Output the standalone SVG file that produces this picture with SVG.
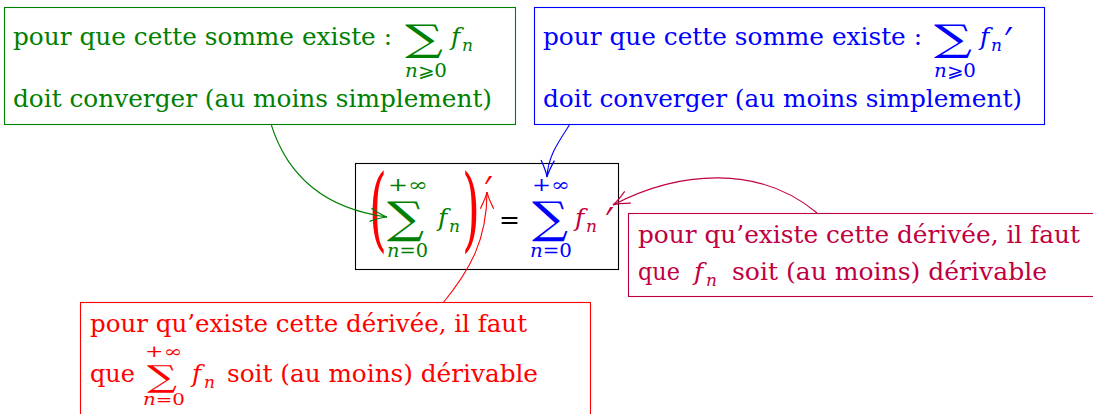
<svg xmlns="http://www.w3.org/2000/svg" width="1093" height="414" viewBox="0 0 1093 414">
<style>
text{font-family:'DejaVu Serif','Liberation Serif',serif;font-size:25px}
.it{font-style:italic}
.sub{font-size:17px;font-style:italic}
.sm{font-size:18px}
.s17{font-size:16px}
.pr{font-family:'Liberation Sans','DejaVu Sans',sans-serif;font-size:32px}
.sigt{font-size:37px}
.sig{font-size:44px}
.sigs{font-size:30px}
.par{font-size:92px}
.g{fill:#008000}.b{fill:#0000ff}.r{fill:#ff0000}.p{fill:#bf0040}.k{fill:#000}
.box{fill:#fff;stroke-width:1.1}
.conn{fill:none;stroke-width:1.1}
</style>
<defs>
<marker id="ag" markerUnits="userSpaceOnUse" markerWidth="20" markerHeight="20" refX="0" refY="0" viewBox="-16 -8 18 16" orient="auto"><path d="M-15,-6 Q-5,-1 0,0 Q-5,1 -15,6" fill="none" stroke="#008000" stroke-width="1.1"/></marker>
<marker id="ab" markerUnits="userSpaceOnUse" markerWidth="20" markerHeight="20" refX="0" refY="0" viewBox="-16 -8 18 16" orient="auto"><path d="M-15,-6 Q-5,-1 0,0 Q-5,1 -15,6" fill="none" stroke="#0000ff" stroke-width="1.1"/></marker>
<marker id="ar" markerUnits="userSpaceOnUse" markerWidth="20" markerHeight="20" refX="0" refY="0" viewBox="-16 -8 18 16" orient="auto"><path d="M-15,-6 Q-5,-1 0,0 Q-5,1 -15,6" fill="none" stroke="#ff0000" stroke-width="1.1"/></marker>
<marker id="ap" markerUnits="userSpaceOnUse" markerWidth="20" markerHeight="20" refX="0" refY="0" viewBox="-16 -8 18 16" orient="auto"><path d="M-15,-6 Q-5,-1 0,0 Q-5,1 -15,6" fill="none" stroke="#bf0040" stroke-width="1.1"/></marker>
</defs>
<rect width="1093" height="414" fill="#fff"/>

<g id="node-green">
<rect class="box" x="4.5" y="7.5" width="511" height="117" stroke="#008000"/>
<text class="g" x="13" y="45" textLength="379" lengthAdjust="spacingAndGlyphs">pour que cette somme existe :</text>
<text class="g sigt" x="405" y="51" textLength="38" lengthAdjust="spacingAndGlyphs">∑</text>
<text class="g it" x="451" y="45">f</text><text class="g sub" x="462" y="51">n</text>
<text class="g sm" x="405" y="77" textLength="42" lengthAdjust="spacingAndGlyphs"><tspan class="it">n</tspan>⩾0</text>
<text class="g" x="13" y="107" textLength="479" lengthAdjust="spacingAndGlyphs">doit converger (au moins simplement)</text>
</g>

<g id="node-blue">
<rect class="box" x="534.5" y="7.5" width="510" height="117" stroke="#0000ff"/>
<text class="b" x="543" y="45" textLength="379" lengthAdjust="spacingAndGlyphs">pour que cette somme existe :</text>
<text class="b sigt" x="934" y="51" textLength="38" lengthAdjust="spacingAndGlyphs">∑</text>
<text class="b it" x="980" y="45">f</text><text class="b sub" x="991" y="51">n</text><text class="b pr" transform="translate(998,49) skewX(-22)">′</text>
<text class="b sm" x="934" y="77" textLength="42" lengthAdjust="spacingAndGlyphs"><tspan class="it">n</tspan>⩾0</text>
<text class="b" x="543" y="107" textLength="479" lengthAdjust="spacingAndGlyphs">doit converger (au moins simplement)</text>
</g>

<g id="node-center">
<rect class="box" x="355.5" y="163.5" width="263" height="106" stroke="#000"/>
<text class="r par" transform="translate(369,240) scale(0.5,1)">(</text>
<text class="g sm" x="388" y="191" textLength="40" lengthAdjust="spacingAndGlyphs">+∞</text>
<text class="g sig" x="387" y="233" textLength="37" lengthAdjust="spacingAndGlyphs">∑</text>
<text class="g sm" x="387" y="257" textLength="41" lengthAdjust="spacingAndGlyphs"><tspan class="it">n</tspan>=0</text>
<text class="g it" x="438" y="226">f</text><text class="g sub" x="449" y="232">n</text>
<text class="r par" transform="translate(462,240) scale(0.5,1)">)</text>
<text class="r pr" transform="translate(478,198) skewX(-22)">′</text>
<text class="k" x="499" y="228" textLength="21" lengthAdjust="spacingAndGlyphs">=</text>
<text class="b sm" x="532" y="191" textLength="38" lengthAdjust="spacingAndGlyphs">+∞</text>
<text class="b sig" x="532" y="233" textLength="36" lengthAdjust="spacingAndGlyphs">∑</text>
<text class="b sm" x="530" y="257" textLength="42" lengthAdjust="spacingAndGlyphs"><tspan class="it">n</tspan>=0</text>
<text class="p it" x="575" y="226">f</text><text class="p sub" x="586" y="232">n</text><text class="p pr" transform="translate(599,229) skewX(-22)">′</text>
</g>

<g id="node-purple">
<rect class="box" x="628.5" y="213.5" width="470" height="83" stroke="#bf0040"/>
<text class="p" x="638" y="243" textLength="442" lengthAdjust="spacingAndGlyphs">pour qu’existe cette dérivée, il faut</text>
<text class="p" x="638" y="280" textLength="42" lengthAdjust="spacingAndGlyphs">que</text>
<text class="p it" x="694" y="280">f</text><text class="p sub" x="706" y="286">n</text>
<text class="p" x="732" y="280" textLength="315" lengthAdjust="spacingAndGlyphs">soit (au moins) dérivable</text>
</g>

<g id="node-red">
<rect class="box" x="80.5" y="302.5" width="510" height="120" stroke="#ff0000"/>
<text class="r" x="90" y="332" textLength="437" lengthAdjust="spacingAndGlyphs">pour qu’existe cette dérivée, il faut</text>
<text class="r" x="90" y="382" textLength="45" lengthAdjust="spacingAndGlyphs">que</text>
<text class="r s17" x="145" y="357" textLength="37" lengthAdjust="spacingAndGlyphs">+∞</text>
<text class="r sigs" x="147" y="387" textLength="30" lengthAdjust="spacingAndGlyphs">∑</text>
<text class="r s17" x="143" y="405" textLength="42" lengthAdjust="spacingAndGlyphs"><tspan class="it">n</tspan>=0</text>
<text class="r it" x="192" y="382">f</text><text class="r sub" x="204" y="388">n</text>
<text class="r" x="227" y="382" textLength="311" lengthAdjust="spacingAndGlyphs">soit (au moins) dérivable</text>
</g>

<g id="connectors">
<path class="conn" stroke="#008000" d="M271,124 C290,185 335,210 387,217" marker-end="url(#ag)"/>
<path class="conn" stroke="#0000ff" d="M570,124 C560,140 548,155 547,177" marker-end="url(#ab)"/>
<path class="conn" stroke="#bf0040" d="M817,213 C760,165 680,170 613,205" marker-end="url(#ap)"/>
<path class="conn" stroke="#ff0000" d="M443,303 C470,270 487,240 487,192" marker-end="url(#ar)"/>
</g>
</svg>
